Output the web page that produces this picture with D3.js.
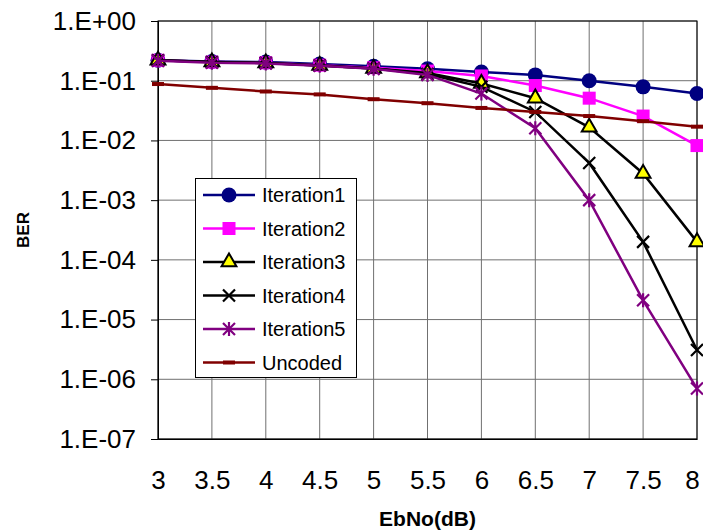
<!DOCTYPE html>
<html>
<head>
<meta charset="utf-8">
<script src="https://cdn.jsdelivr.net/npm/d3@7"></script>
<style>
  html, body { margin: 0; padding: 0; background: #fff; }
  svg { display: block; font-family: Arial, "Liberation Sans", sans-serif; }
</style>
</head>
<body>
<svg id="chart" width="703" height="532"></svg>
<script>
// Eb/No sweep (dB) and BER per decoder iteration
const ebno = [3, 3.5, 4, 4.5, 5, 5.5, 6, 6.5, 7, 7.5, 8];
const iteration1 = [0.22, 0.21, 0.205, 0.19, 0.175, 0.158, 0.14, 0.125, 0.1, 0.079, 0.061];
const iteration2 = [0.22, 0.205, 0.2, 0.182, 0.165, 0.145, 0.12, 0.083, 0.051, 0.0256, 0.0082];
const iteration3 = [0.22, 0.205, 0.198, 0.18, 0.16, 0.135, 0.09, 0.051, 0.0166, 0.0028, 0.0002];
const iteration4 = [0.22, 0.205, 0.198, 0.18, 0.16, 0.13, 0.079, 0.03, 0.0042, 0.0002, 3.1e-6];
const iteration5 = [0.215, 0.2, 0.195, 0.178, 0.158, 0.125, 0.061, 0.016, 0.001, 2.1e-5, 7e-7];
const uncoded = [0.088, 0.076, 0.066, 0.059, 0.049, 0.042, 0.035, 0.030, 0.0256, 0.021, 0.017];

const seriesNames = ["Iteration1", "Iteration2", "Iteration3", "Iteration4", "Iteration5", "Uncoded"];
const xTickLabels = ["3", "3.5", "4", "4.5", "5", "5.5", "6", "6.5", "7", "7.5", "8"];
const yTickValues = [1, 1e-1, 1e-2, 1e-3, 1e-4, 1e-5, 1e-6, 1e-7];
const yTickLabels = ["1.E+00", "1.E-01", "1.E-02", "1.E-03", "1.E-04", "1.E-05", "1.E-06", "1.E-07"];

const styles = [
  { line: "#000080", marker: "circle", fill: "#000080", stroke: "#000080" },
  { line: "#FF00FF", marker: "square", fill: "#FF00FF", stroke: "#FF00FF" },
  { line: "#000000", marker: "triangle", fill: "#FFFF00", stroke: "#000000" },
  { line: "#000000", marker: "x", fill: "none", stroke: "#000000" },
  { line: "#800080", marker: "star", fill: "none", stroke: "#800080" },
  { line: "#800000", marker: "dash", fill: "#800000", stroke: "#800000" }
];
const seriesValues = [iteration1, iteration2, iteration3, iteration4, iteration5, uncoded];

const svg = d3.select("#chart");
const plot = { left: 158, right: 697, top: 21, bottom: 439 };

const x = d3.scaleLinear().domain([3, 8]).range([plot.left, plot.right]);
const y = d3.scaleLog().domain([1e-7, 1]).range([plot.bottom, plot.top]);

// grid
const grid = svg.append("g");
grid.selectAll("line.h").data(yTickValues).join("line")
  .attr("x1", plot.left).attr("x2", plot.right)
  .attr("y1", d => y(d)).attr("y2", d => y(d))
  .attr("stroke", "#707070").attr("stroke-width", 1);
grid.selectAll("line.v").data(ebno).join("line")
  .attr("y1", plot.top).attr("y2", plot.bottom)
  .attr("x1", d => x(d)).attr("x2", d => x(d))
  .attr("stroke", "#707070").attr("stroke-width", 1);

// plot frame
svg.append("rect")
  .attr("x", plot.left).attr("y", plot.top)
  .attr("width", plot.right - plot.left).attr("height", plot.bottom - plot.top)
  .attr("fill", "none").attr("stroke", "#000").attr("stroke-width", 1);

// y axis
const yAxis = d3.axisLeft(y).tickValues(yTickValues)
  .tickFormat((d, i) => yTickLabels[i]).tickSize(7).tickPadding(15);
const yg = svg.append("g").attr("transform", `translate(${plot.left},0)`).call(yAxis);
yg.select(".domain").attr("stroke", "#000");
yg.selectAll(".tick line").attr("stroke", "#000");
yg.selectAll(".tick text").attr("font-size", 26).attr("fill", "#000")
  .attr("font-family", "Arial, 'Liberation Sans', sans-serif");

// x axis
const xAxis = d3.axisBottom(x).tickValues(ebno)
  .tickFormat((d, i) => xTickLabels[i]).tickSize(0).tickPadding(32);
const xg = svg.append("g").attr("transform", `translate(0,${plot.bottom})`).call(xAxis);
xg.select(".domain").attr("stroke", "#000");
xg.selectAll(".tick text").attr("font-size", 26).attr("fill", "#000")
  .attr("font-family", "Arial, 'Liberation Sans', sans-serif");
// keep the last label inside the canvas
xg.selectAll(".tick text").filter((d, i, n) => i === n.length - 1).attr("dx", -5);

// axis titles
svg.append("text")
  .attr("x", (plot.left + plot.right) / 2).attr("y", 526)
  .attr("text-anchor", "middle").attr("font-weight", "bold").attr("font-size", 21)
  .text("EbNo(dB)");
svg.append("text")
  .attr("transform", `translate(29,${(plot.top + plot.bottom) / 2}) rotate(-90)`)
  .attr("text-anchor", "middle").attr("font-weight", "bold").attr("font-size", 17)
  .text("BER");

// marker drawing
function drawMarker(g, kind, st) {
  if (kind === "circle") {
    g.append("circle").attr("r", 7.5).attr("fill", st.fill);
  } else if (kind === "square") {
    g.append("rect").attr("x", -6.5).attr("y", -6.5).attr("width", 13).attr("height", 13).attr("fill", st.fill);
  } else if (kind === "triangle") {
    g.append("path").attr("d", d3.symbol(d3.symbolTriangle, 95)())
      .attr("fill", st.fill).attr("stroke", st.stroke).attr("stroke-width", 2);
  } else if (kind === "x") {
    g.append("path").attr("d", "M-6,-6L6,6M-6,6L6,-6")
      .attr("stroke", st.stroke).attr("stroke-width", 2.2).attr("fill", "none");
  } else if (kind === "star") {
    g.append("path").attr("d", "M-6,-6L6,6M-6,6L6,-6M0,-7L0,7")
      .attr("stroke", st.stroke).attr("stroke-width", 2.2).attr("fill", "none");
  } else if (kind === "dash") {
    g.append("rect").attr("x", -6).attr("y", -2).attr("width", 12).attr("height", 4).attr("fill", st.fill);
  }
}

// series
const line = d3.line().x(d => x(d[0])).y(d => y(d[1]));
seriesValues.forEach((vals, si) => {
  const st = styles[si];
  const pts = ebno.map((e, i) => [e, vals[i]]);
  const g = svg.append("g");
  g.append("path").datum(pts).attr("d", line)
    .attr("fill", "none").attr("stroke", st.line).attr("stroke-width", 2.5);
  pts.forEach(p => {
    const mg = g.append("g").attr("transform", `translate(${x(p[0])},${y(p[1])})`);
    drawMarker(mg, st.marker, st);
  });
});

// legend
const legend = svg.append("g");
legend.append("rect").attr("x", 195.5).attr("y", 178.5).attr("width", 161).attr("height", 199)
  .attr("fill", "#fff").attr("stroke", "#000").attr("stroke-width", 1);
seriesNames.forEach((name, i) => {
  const cy = 195 + i * 33.5;
  const st = styles[i];
  legend.append("line").attr("x1", 203).attr("x2", 255).attr("y1", cy).attr("y2", cy)
    .attr("stroke", st.line).attr("stroke-width", 2.5);
  const mg = legend.append("g").attr("transform", `translate(229,${cy})`);
  drawMarker(mg, st.marker, st);
  legend.append("text").attr("x", 262).attr("y", cy).attr("dy", "0.35em")
    .attr("font-size", 20).attr("fill", "#000").text(name);
});
</script>
</body>
</html>
